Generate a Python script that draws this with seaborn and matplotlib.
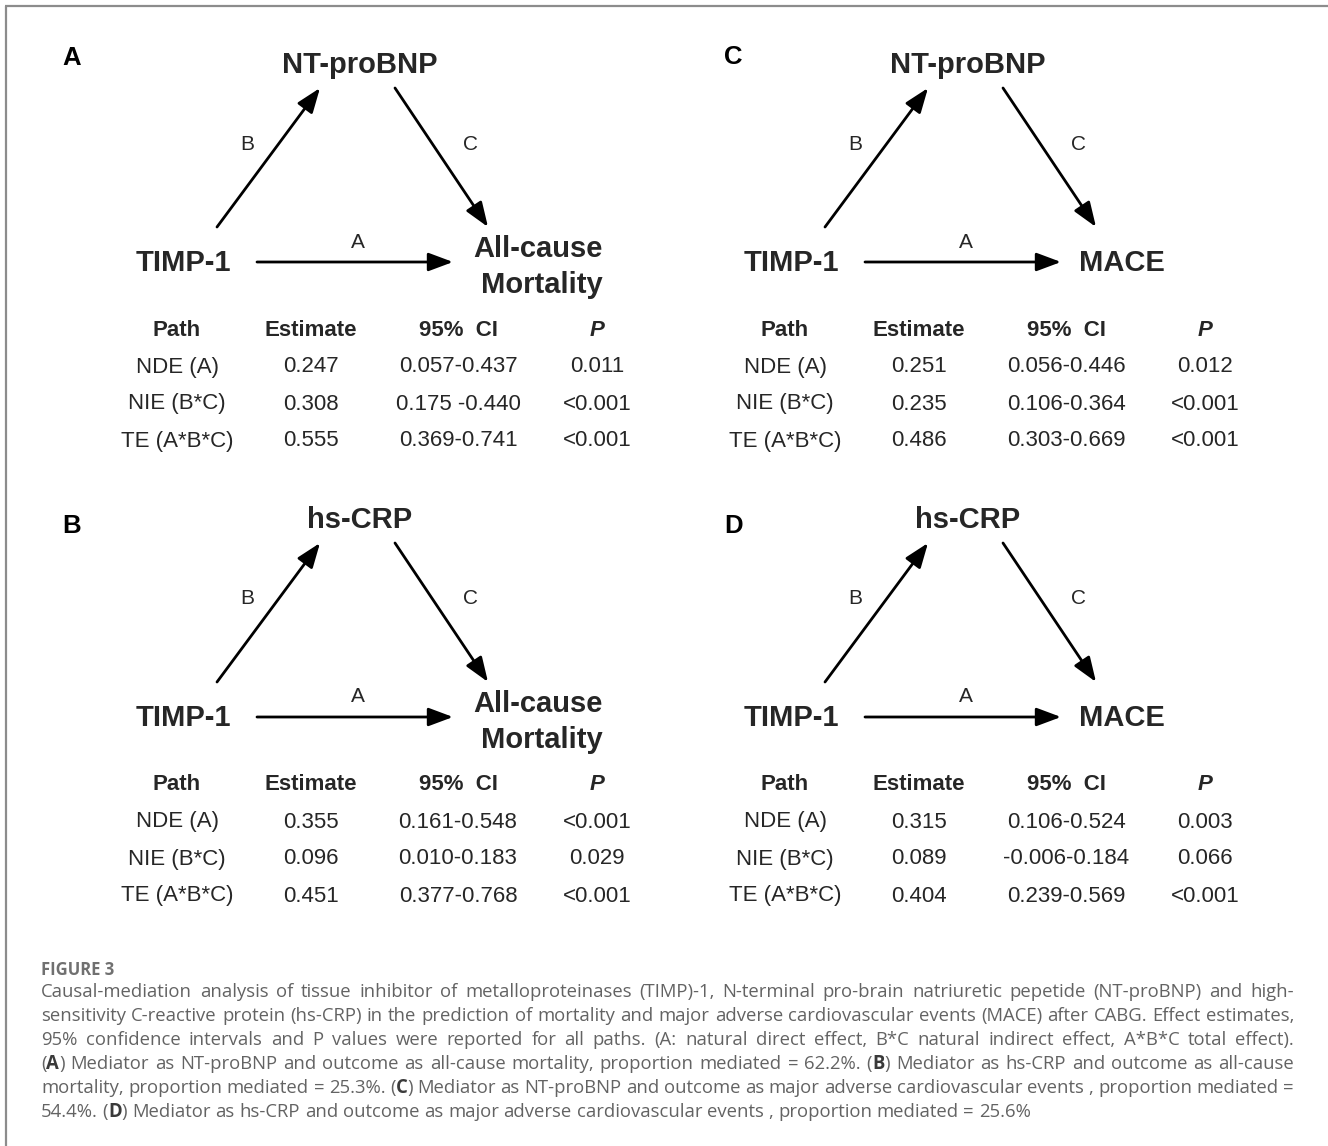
import matplotlib
matplotlib.use("Agg")
import matplotlib.pyplot as plt
import seaborn as sns

# ---- content -------------------------------------------------------------
panel_ids = ["A", "B", "C", "D"]
exposure = "TIMP-1"
mediators = ["NT-proBNP", "hs-CRP", "NT-proBNP", "hs-CRP"]
outcomes = ["All-cause\nMortality", "All-cause\nMortality", "MACE", "MACE"]
edge_names = ["A", "B", "C"]

table_header = ["Path", "Estimate", "95%  CI", "P"]
path_names = ["NDE (A)", "NIE (B*C)", "TE (A*B*C)"]

est_A = [0.247, 0.308, 0.555]
est_B = [0.355, 0.096, 0.451]
est_C = [0.251, 0.235, 0.486]
est_D = [0.315, 0.089, 0.404]

ci_A = ["0.057-0.437", "0.175 -0.440", "0.369-0.741"]
ci_B = ["0.161-0.548", "0.010-0.183", "0.377-0.768"]
ci_C = ["0.056-0.446", "0.106-0.364", "0.303-0.669"]
ci_D = ["0.106-0.524", "-0.006-0.184", "0.239-0.569"]

p_A = ["0.011", "<0.001", "<0.001"]
p_B = ["<0.001", "0.029", "<0.001"]
p_C = ["0.012", "<0.001", "<0.001"]
p_D = ["0.003", "0.066", "<0.001"]

caption_title = "FIGURE 3"
caption_lines = [
    "Causal-mediation analysis of tissue inhibitor of metalloproteinases (TIMP)-1, N-terminal pro-brain natriuretic pepetide (NT-proBNP) and high-",
    "sensitivity C-reactive protein (hs-CRP) in the prediction of mortality and major adverse cardiovascular events (MACE) after CABG. Effect estimates,",
    "95% confidence intervals and P values were reported for all paths. (A: natural direct effect, B*C natural indirect effect, A*B*C total effect).",
    "(**A**) Mediator as NT-proBNP and outcome as all-cause mortality, proportion mediated = 62.2%. (**B**) Mediator as hs-CRP and outcome as all-cause",
    "mortality, proportion mediated = 25.3%. (**C**) Mediator as NT-proBNP and outcome as major adverse cardiovascular events , proportion mediated =",
    "54.4%. (**D**) Mediator as hs-CRP and outcome as major adverse cardiovascular events , proportion mediated = 25.6%",
]

panel_tables = {
    "A": (est_A, ci_A, p_A),
    "B": (est_B, ci_B, p_B),
    "C": (est_C, ci_C, p_C),
    "D": (est_D, ci_D, p_D),
}

# ---- style ---------------------------------------------------------------
sns.set_theme(style="white")
plt.rcParams["font.family"] = ["Liberation Sans", "DejaVu Sans"]
CAP_FAMILY = ["Open Sans", "DejaVu Sans"]
CAP_COLOR = "#636363"

W, H = 1328, 1146
fig = plt.figure(figsize=(W / 100, H / 100), dpi=100)
ax = fig.add_axes([0, 0, 1, 1])
ax.set_xlim(0, W)
ax.set_ylim(H, 0)
ax.axis("off")
renderer = fig.canvas.get_renderer()

# outer frame (top and left rules)
ax.plot([5, W], [6, 6], color="#8c8c8c", lw=1.6, solid_capstyle="butt")
ax.plot([6, 6], [6, H], color="#8c8c8c", lw=1.6, solid_capstyle="butt")

# panel placement (pixel offsets of each diagram)
offsets = {"A": (0, 0), "B": (0, 455), "C": (608, 0), "D": (608, 455)}
letter_pos = {"A": (62, 65), "B": (62, 533), "C": (724, 64), "D": (724, 533)}

NODE_FS = 21
TABLE_FS = 16
EDGE_FS = 15
arrow_kw = dict(arrowstyle="-|>,head_length=0.75,head_width=0.28",
                color="black", lw=2.0, shrinkA=0, shrinkB=0,
                mutation_scale=20)

col_x = [177, 311, 458, 597]
row_y = [330, 367, 404, 441]


def draw_panel(pid, mediator, outcome):
    dx, dy = offsets[pid]
    lx, ly = letter_pos[pid]
    ax.text(lx, ly, pid, fontsize=18.5, fontweight="bold", ha="left",
            va="baseline", color="black")

    # nodes
    ax.text(dx + 360, dy + 73, mediator, fontsize=NODE_FS, fontweight="bold",
            ha="center", va="baseline")
    ax.text(dx + 136, dy + 271, exposure, fontsize=NODE_FS, fontweight="bold",
            ha="left", va="baseline")
    out_lines = outcome.split("\n")
    if len(out_lines) == 2:
        ax.text(dx + 603, dy + 257, out_lines[0], fontsize=NODE_FS,
                fontweight="bold", ha="right", va="baseline")
        ax.text(dx + 603, dy + 293, out_lines[1], fontsize=NODE_FS,
                fontweight="bold", ha="right", va="baseline")
    else:
        ax.text(dx + 557, dy + 271, out_lines[0], fontsize=NODE_FS,
                fontweight="bold", ha="right", va="baseline")

    # paths
    ax.annotate("", xy=(dx + 453, dy + 262), xytext=(dx + 257, dy + 262),
                arrowprops=arrow_kw)
    ax.annotate("", xy=(dx + 320, dy + 88), xytext=(dx + 217, dy + 227),
                arrowprops=arrow_kw)
    ax.annotate("", xy=(dx + 488, dy + 227), xytext=(dx + 395, dy + 88),
                arrowprops=arrow_kw)
    edge_pos = [(358, 242), (247, 144), (471, 144)]
    for name, (ex, ey) in zip(edge_names, edge_pos):
        ax.text(dx + ex, dy + ey, name, fontsize=EDGE_FS, ha="center",
                va="center")

    # effect table
    for j, head in enumerate(table_header):
        style = "italic" if head == "P" else "normal"
        ax.text(dx + col_x[j], dy + row_y[0], head, fontsize=TABLE_FS,
                fontweight="bold", fontstyle=style, ha="center", va="center")
    est, ci, pv = panel_tables[pid]
    for i in range(3):
        cells = [path_names[i], f"{est[i]:.3f}", ci[i], pv[i]]
        for j, cell in enumerate(cells):
            ax.text(dx + col_x[j], dy + row_y[i + 1], cell, fontsize=TABLE_FS,
                    ha="center", va="center")


for pid, med, out in zip(panel_ids, mediators, outcomes):
    draw_panel(pid, med, out)


# ---- caption (justified paragraph) ---------------------------------------
def parse_word(word):
    segs = []
    for k, part in enumerate(word.split("**")):
        if part:
            segs.append((part, "bold" if k % 2 else "normal"))
    return segs


def text_width(txt, weight, fs):
    t = ax.text(0, 0, txt, fontsize=fs, fontweight=weight, family=CAP_FAMILY)
    w = t.get_window_extent(renderer).width
    t.remove()
    return w


def word_width(segs, fs):
    return sum(text_width(s, wt, fs) for s, wt in segs)


def line_natural_width(line, fs):
    words = [parse_word(w) for w in line.split(" ")]
    sp = text_width("a a", "normal", fs) - text_width("aa", "normal", fs)
    return sum(word_width(w, fs) for w in words) + sp * (len(words) - 1)


X0, X1 = 41, 1294
base_fs = 12.0
last_w = line_natural_width(caption_lines[-1], base_fs)
cap_fs = base_fs * 986.0 / last_w

ax.text(X0, 975, caption_title, fontsize=cap_fs * 0.9, fontweight="bold",
        family=CAP_FAMILY, color="#707070", ha="left", va="baseline")

space_w = text_width("a a", "normal", cap_fs) - text_width("aa", "normal", cap_fs)
for li, line in enumerate(caption_lines):
    y = 997 + 24 * li
    words = [parse_word(w) for w in line.split(" ")]
    widths = [word_width(w, cap_fs) for w in words]
    last = li == len(caption_lines) - 1
    if last or len(words) < 2:
        gap = space_w
    else:
        gap = (X1 - X0 - sum(widths)) / (len(words) - 1)
    x = X0
    for segs, ww in zip(words, widths):
        sx = x
        for s, wt in segs:
            ax.text(sx, y, s, fontsize=cap_fs, fontweight=wt,
                    family=CAP_FAMILY,
                    color=CAP_COLOR if wt == "normal" else "#3a3a3a",
                    ha="left", va="baseline")
            sx += text_width(s, wt, cap_fs)
        x += ww + gap

fig.savefig("out.png", dpi=100, facecolor="white")
